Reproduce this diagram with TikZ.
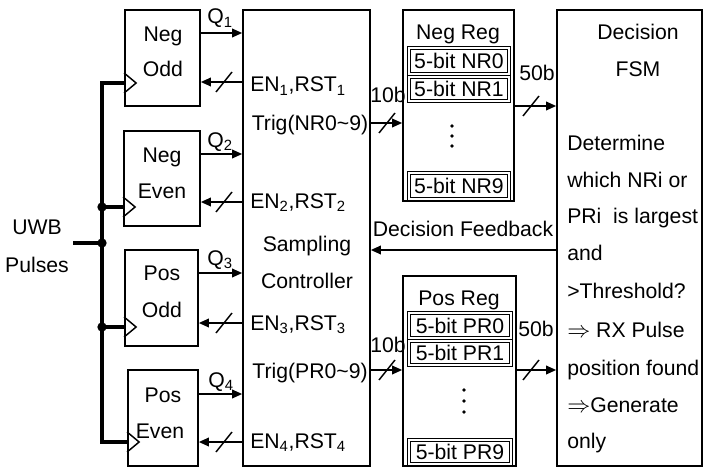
\documentclass[tikz,border=0pt]{standalone}
\usepackage{fontspec}
\setmainfont{Liberation Sans}
\usetikzlibrary{fit,arrows.meta,calc}
\begin{document}
\begin{tikzpicture}[x=0.75pt,y=-0.75pt,
  box/.style={draw,line width=1.3pt,inner sep=0pt},
  wire/.style={line width=1.1pt},
  arr/.style={wire,-{Triangle[length=7.5pt,width=6.5pt]}},
  bus/.style={line width=2.3pt,line join=miter},
  txt/.style={font=\fontsize{15.9}{18}\selectfont,inner sep=0pt},
  lbl/.style={txt,anchor=base west},
  ctr/.style={txt,anchor=base},
  reg/.style={draw,double,line width=0.75pt,double distance=0.8pt,inner sep=0pt},
  dot/.style={fill,circle,inner sep=0pt,minimum size=7pt},
  smalldot/.style={fill,circle,inner sep=0pt,minimum size=2.7pt}]
\useasboundingbox (0,0) rectangle (703,467);
% flip-flop boxes
\node[box,fit={(125,10)(200,106)}] (no) {};
\node[box,fit={(124,131)(200,226)}] (ne) {};
\node[box,fit={(125,250)(198,346)}] (po) {};
\node[box,fit={(128,370)(198,466)}] (pe) {};
% main blocks
\node[box,fit={(243,10)(370,466)}] (sc) {};
\node[box,fit={(403,10)(514,201)}] (nr) {};
\node[box,fit={(403,276)(516,466)}] (pr) {};
\node[box,fit={(557,10)(702,466)}] (fsm) {};
% box texts
\node[ctr] (t1) at (163,42) {Neg};
\node[ctr] (t2) at (163,77) {Odd};
\node[ctr] (t3) at (162,162) {Neg};
\node[ctr] (t4) at (162,198) {Even};
\node[ctr] (t5) at (162,280) {Pos};
\node[ctr] (t6) at (162,317) {Odd};
\node[ctr] (t7) at (163,402) {Pos};
\node[ctr] (t8) at (160,438) {Even};
% clock triangles
\draw[wire] (no.west |- 0,73) -- ++(12,10) -- ++(-12,10);
\draw[wire] (ne.west |- 0,197) -- ++(12,10) -- ++(-12,10);
\draw[wire] (po.west |- 0,317) -- ++(12,10) -- ++(-12,10);
\draw[wire] (pe.west |- 0,432) -- ++(12,10) -- ++(-12,10);
% clock bus
\coordinate (in) at (73,243);
\coordinate (j0) at (102,243);
\coordinate (j1) at (102,207);
\coordinate (j2) at (102,327);
\draw[bus] (no.west |- 0,83) -- (102,83) -- (102,442) -- (pe.west |- 0,442);
\draw[bus] (j1) -- (ne.west |- j1);
\draw[bus] (j2) -- (po.west |- j2);
\draw[bus] (in) -- (j0);
\node[dot] at (j0) {};
\node[dot] at (j1) {};
\node[dot] at (j2) {};
\node[ctr] (uwb) at (37,234) {UWB};
\node[ctr] (pul) at (37,272) {Pulses};
% Q outputs
\draw[arr] (no.east |- 0,33) -- (sc.west |- 0,33);
\draw[arr] (ne.east |- 0,154) -- (sc.west |- 0,154);
\draw[arr] (po.east |- 0,273) -- (sc.west |- 0,273);
\draw[arr] (pe.east |- 0,394) -- (sc.west |- 0,394);
\node[lbl] (q1) at (207,24) {Q\textsubscript{1}};
\node[lbl] (q2) at (207,147) {Q\textsubscript{2}};
\node[lbl] (q3) at (207,265) {Q\textsubscript{3}};
\node[lbl] (q4) at (208,387) {Q\textsubscript{4}};
% EN,RST feedback
\draw[arr] (sc.west |- 0,82) -- (no.east |- 0,82);
\draw[arr] (sc.west |- 0,202) -- (ne.east |- 0,202);
\draw[arr] (sc.west |- 0,323) -- (po.east |- 0,323);
\draw[arr] (sc.west |- 0,442) -- (pe.east |- 0,442);
\foreach \yy in {82,202,323,442} \draw[wire] (224,\yy) ++(-8,10) -- ++(16,-20);
\node[lbl] (e1) at (250,92) {EN\textsubscript{1},RST\textsubscript{1}};
\node[lbl] (e2) at (250,208) {EN\textsubscript{2},RST\textsubscript{2}};
\node[lbl] (e3) at (250,330) {EN\textsubscript{3},RST\textsubscript{3}};
\node[lbl] (e4) at (250,448) {EN\textsubscript{4},RST\textsubscript{4}};
% controller texts
\node[ctr] (s1) at (307,251) {Sampling};
\node[ctr] (s2) at (307,288) {Controller};
\node[ctr] (tr1) at (310,130) {Trig(NR0\textasciitilde9)};
\node[ctr] (tr2) at (310,378) {Trig(PR0\textasciitilde9)};
% trig buses
\draw[arr] (sc.east |- 0,123) -- (nr.west |- 0,123);
\draw[arr] (sc.east |- 0,370) -- (pr.west |- 0,370);
\draw[wire] (387,123) ++(-8,10) -- ++(16,-20);
\draw[wire] (387,370) ++(-8,10) -- ++(16,-20);
\node[ctr] (b1) at (388,103) {10b};
\node[ctr] (b2) at (388,352) {10b};
% registers
\node[ctr] (nrl) at (458,40) {Neg Reg};
\node[reg,fit={(409,48)(509,74)}] (nr0) {};
\node[txt] at (nr0) {5-bit NR0};
\node[reg,fit={(409,77)(509,101)}] (nr1) {};
\node[txt] at (nr1) {5-bit NR1};
\node[reg,fit={(409,173)(509,199)}] (nr9) {};
\node[txt] at (nr9) {5-bit NR9};
\node[smalldot] at (452,126) {};
\node[smalldot] at (452,136) {};
\node[smalldot] at (452,146) {};
\node[ctr] (prl) at (459,305) {Pos Reg};
\node[reg,fit={(409,313)(511,338)}] (pr0) {};
\node[txt] at (pr0) {5-bit PR0};
\node[reg,fit={(409,341)(511,365)}] (pr1) {};
\node[txt] at (pr1) {5-bit PR1};
\node[reg,fit={(409,440)(511,464)}] (pr9) {};
\node[txt] at (pr9) {5-bit PR9};
\node[smalldot] at (464,390) {};
\node[smalldot] at (464,401) {};
\node[smalldot] at (464,412) {};
% 50b buses
\draw[arr] (nr.east |- 0,106) -- (fsm.west |- 0,106);
\draw[arr] (pr.east |- 0,370) -- (fsm.west |- 0,370);
\draw[wire] (531,106) ++(-8,10) -- ++(16,-20);
\draw[wire] (531,370) ++(-8,10) -- ++(16,-20);
\node[ctr] (f1) at (537,80) {50b};
\node[ctr] (f2) at (536,336) {50b};
% decision feedback
\draw[arr] (fsm.west |- 0,250) -- (sc.east |- 0,250);
\node[ctr] (df) at (463,236) {Decision Feedback};
% FSM texts
\node[ctr] (d1) at (638,40) {Decision};
\node[ctr] (d2) at (638,77) {FSM};
\node[lbl] (d3) at (567,150) {Determine};
\node[lbl] (d4) at (567,187) {which NRi or};
\node[lbl] (d5) at (567,223) {PRi\ \ is largest};
\node[lbl] (d6) at (567,260) {and};
\node[lbl] (d7) at (567,298) {>Threshold?};
\node[lbl] (d8) at (567,337) {$\Rightarrow$ RX Pulse};
\node[lbl] (d9) at (567,375) {position found};
\node[lbl] (d10) at (567,412) {$\Rightarrow$Generate};
\node[lbl] (d11) at (567,448) {only};
\end{tikzpicture}
\end{document}
